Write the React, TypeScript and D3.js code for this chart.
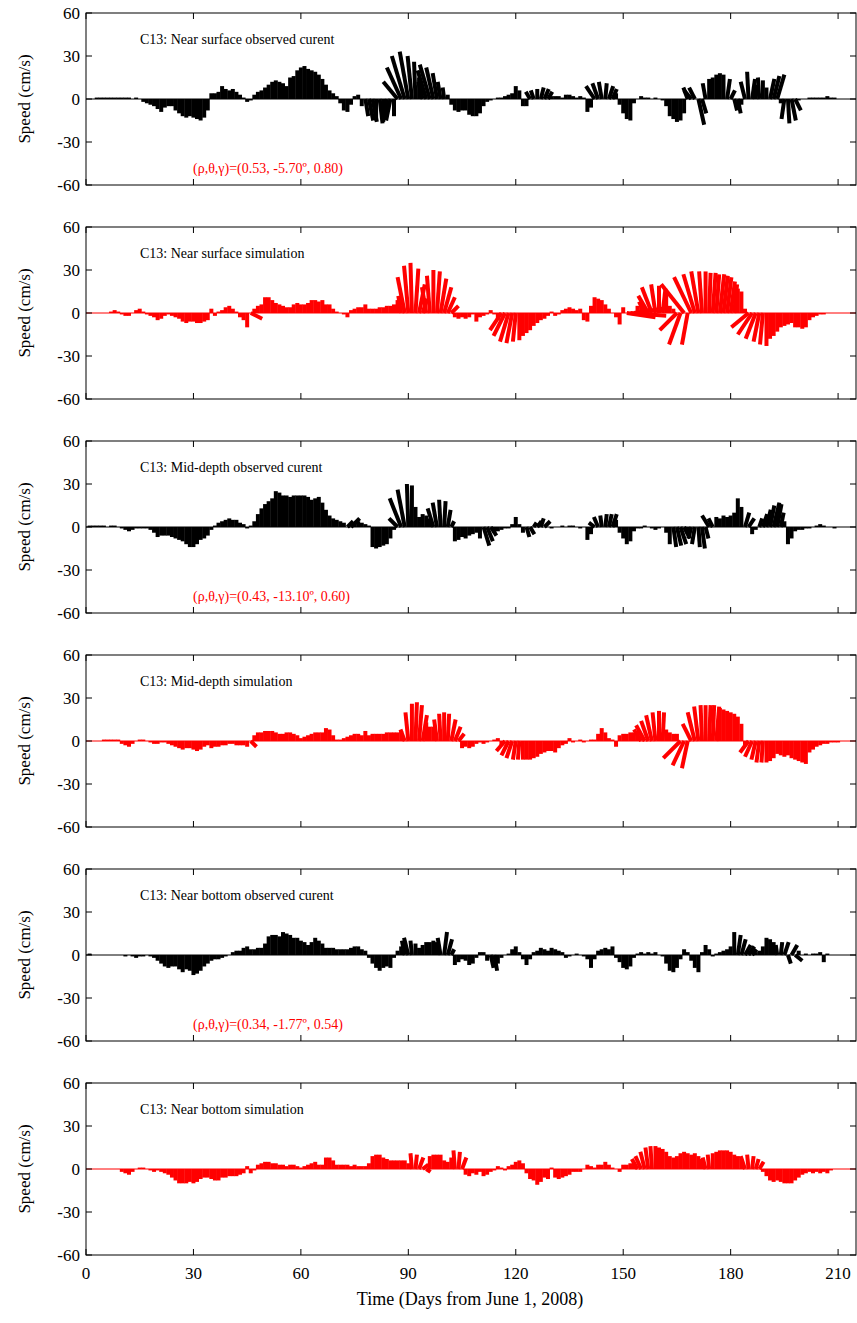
import * as d3 from "d3";

// daily north (v) components, cm/s, day 0..214
const obsSurfV = [
  0, 0, 0, 1, 1, 1, 1, 1, 1, 1, 1, 1, 1, 0, 1, 0, -2, -3, -4, -5,
  -7, -9, -6, -5, -5, -8, -10, -12, -13, -12, -13, -14, -15, -13, -8, 4, 4, 5, 9, 7,
  6, 7, 5, 3, 1, -2, -1, 3, 5, 6, 8, 10, 12, 13, 12, 11, 9, 15, 16, 20,
  22, 23, 21, 20, 19, 17, 14, 10, 6, 4, 2, -3, -8, -9, -4, 2, 3, -5, -12, -15,
  -16, -15, -17, -16, -14, -15, -12, 12, 22, 30, 33, 30, 26, 15, 12, 20, 24, 22, 18, 12,
  8, 3, -4, -8, -9, -8, -8, -11, -12, -12, -10, -5, -2, -1, 0, 1, 1, 2, 3, 4,
  9, 6, -5, -5, 5, 6, 7, 8, 7, 5, 2, 2, 2, 1, 3, 3, 2, 1, 2, 1,
  -9, -6, 9, 11, 12, 11, 9, 7, 4, -4, -10, -14, -15, -3, 0, 2, 1, 1, 0, 1,
  0, -1, -5, -12, -14, -16, -15, -10, 8, 6, 8, -18, -10, 11, 14, 15, 17, 18, 17, 14,
  6, -8, -10, -4, 12, 19, 14, 10, 15, 13, 8, 14, 16, 17, -3, -14, -17, -15, -8, -1,
  0, 0, 1, 1, 1, 1, 1, 2, 1, 1, 0, 0, 0, 0, 0,
];
// [day, east component] where the stick leans
const obsSurfU = [
  [78, 2], [79, 3], [80, 3], [82, 2], [84, -2], [85, -3],
  [87, -10], [88, -10], [89, -9], [90, -6], [91, -3], [92, -1], [94, -3], [95, -6], [96, -7], [97, -5], [98, -3], [99, -2], [100, -1],
  [124, -3], [125, -2], [127, 2], [128, 3], [129, 3],
  [142, -6], [143, -4], [144, -2], [145, 1], [146, 3], [147, 3],
  [168, -3], [169, -5], [170, -4], [171, 4], [172, 3], [173, -2], [179, 2], [180, 3], [181, 2], [182, 2],
  [184, -3], [185, -1], [186, 2], [188, -1], [191, 3], [192, 4], [193, 5], [195, -2], [196, 1], [197, 3], [198, 4],
];

const simSurfV = [
  0, 0, 0, 0, 0, 0, 0, 1, 2, 1, -1, -2, -2, 0, 2, 3, 1, -1, -2, -3,
  -5, -4, -2, -1, -2, -3, -4, -6, -7, -6, -6, -7, -7, -6, -5, 3, -2, 1, 2, 4,
  5, 3, 1, -3, -5, -10, -4, 3, 5, 6, 11, 11, 9, 7, 6, 5, 4, 4, 6, 7,
  6, 6, 7, 9, 9, 8, 9, 6, 6, 3, 1, 0, -1, -3, 2, 3, 4, 4, 6, 3,
  3, 3, 4, 4, 5, 5, 6, 9, 12, 25, 33, 35, 31, 20, 10, 18, 26, 30, 29, 24,
  18, 11, 5, -3, -4, -3, -4, -3, -1, -6, -3, -2, -1, 2, -1, -5, -12, -16, -20, -21,
  -20, -19, -16, -14, -12, -9, -7, -5, -4, -2, 1, -2, -1, 2, 3, 4, 3, 2, 3, -5,
  -6, 5, 11, 10, 9, 6, 3, 0, -3, -8, 4, -3, -2, 3, 5, 6, 8, 12, 18, 20,
  19, 17, 14, 5, 3, -12, -22, 20, -22, 25, 27, 29, 29, 29, 28, 28, 27, 27, 26, 25,
  22, 20, 17, 15, 3, -10, -15, -18, -20, -22, -23, -18, -16, -13, -10, -9, -8, -7, -10, -10,
  -11, -10, -5, -3, -2, -1, -1, 0, 0, 0, 0, 0, 0, 0, 0,
];
const simSurfU = [
  [46, 8], [88, -2], [89, -5], [90, -3], [91, -1], [92, 2], [93, 4], [94, 3], [95, -3], [96, -2], [98, 2], [99, 4], [100, 5], [101, 5], [102, 5],
  [116, -8], [117, -8], [118, -6], [119, -4], [120, -2],
  [151, 20], [152, 25], [153, 20], [156, -4], [157, -7], [158, -7], [159, -3], [161, 2],
  [165, -12], [166, -8], [167, -16], [168, -4], [169, -12], [170, -8], [171, -5], [172, -2], [174, 1], [175, 2], [176, 2], [177, 3], [178, 3], [179, 3], [180, 3], [181, 2],
  [185, -12], [186, -10], [187, -7], [188, -4], [189, -2],
];

const obsMidV = [
  0, 1, 1, 1, 1, 1, 0, 1, 1, 0, -1, -2, -3, -2, -1, -1, -1, -1, -2, -4,
  -7, -6, -6, -6, -7, -8, -9, -10, -12, -14, -14, -12, -9, -8, -6, -2, 1, 3, 4, 5,
  6, 5, 5, 3, 2, -1, 1, 4, 9, 13, 16, 18, 20, 25, 24, 22, 22, 21, 22, 22,
  22, 22, 21, 19, 20, 21, 17, 12, 8, 6, 5, 4, 3, 4, 6, 3, 4, 3, 2, 1,
  -14, -15, -14, -13, -12, -8, -2, 6, 20, 26, 30, 29, 14, 7, 9, 8, 6, 13, 17, 19,
  18, 12, 4, -10, -9, -7, -8, -6, -5, -4, -8, -13, -10, -6, -4, -3, -2, -1, -1, 2,
  7, 2, -4, -7, -5, 3, 4, 6, 4, 0, -1, 0, 0, 1, 0, 1, 1, 0, -1, 0,
  -9, -5, 3, 7, 8, 9, 9, 9, 5, -4, -8, -12, -10, -3, -1, -1, 1, 0, -1, -2,
  -1, 0, -4, -12, -14, -13, -12, -8, -5, -8, -12, -14, -15, -8, 8, 6, 7, 6, 8, 7,
  8, 10, 20, 14, 10, 6, -5, -2, 6, 9, 12, 15, 17, 16, 10, 4, -12, -8, -3, -2,
  -2, -1, -1, 0, 1, 2, 1, 0, 0, -1, 0, 0, 0, 0, 0,
];
const obsMidU = [
  [73, 4], [74, 6], [87, -6], [88, -8], [89, -5], [90, -1], [97, -4], [98, -3], [99, -1], [100, 1], [101, 2], [102, 2],
  [111, 4], [112, 4], [113, 4], [123, 2], [124, 3], [125, 2], [126, 3], [127, 2], [128, 4],
  [142, -4], [143, -3], [144, -1], [145, 1], [146, 2], [147, 3],
  [164, 2], [165, 3], [166, 4], [167, 4], [169, -2], [170, -2], [171, 1], [172, 2], [173, 2], [174, -5], [175, -3],
  [184, 3], [185, 4], [188, 2], [189, 3], [190, 3], [191, 3], [192, 4], [193, 3], [194, 2],
];

const simMidV = [
  0, 0, 0, 0, 0, 1, 1, 1, 1, 1, -2, -3, -4, -2, 0, 1, 1, 0, -1, -2,
  -2, -1, -1, -2, -3, -4, -5, -6, -5, -5, -6, -7, -6, -4, -3, -5, -4, -4, -3, -3,
  -2, -2, -3, -3, -3, -4, -4, 4, 6, 6, 7, 7, 7, 6, 5, 5, 6, 6, 5, 4,
  2, 3, 4, 5, 6, 6, 6, 9, 8, 4, 1, 1, 2, 3, 4, 5, 5, 4, 7, 4,
  5, 5, 5, 5, 6, 6, 6, 6, 7, 8, 20, 26, 27, 25, 18, 13, 10, 10, 15, 19,
  20, 19, 15, 10, 5, -5, -4, -5, -4, -2, -1, -2, -1, 0, 1, 2, -3, -7, -10, -12,
  -13, -13, -13, -13, -13, -12, -11, -9, -8, -7, -7, -8, -5, -3, -2, 2, -1, 0, 1, -1,
  0, 1, 1, 5, 9, 6, 2, 1, -4, 4, 5, 5, 6, 6, 7, 8, 11, 14, 18, 20,
  21, 20, 8, 6, 5, 5, -12, -17, -19, 12, 20, 24, 25, 25, 25, 25, 24, 23, 22, 21,
  20, 19, 17, 12, -3, -8, -11, -13, -15, -15, -15, -14, -12, -9, -10, -11, -10, -12, -13, -14,
  -15, -16, -8, -6, -4, -3, -2, -2, -1, -1, -1, 0, 0, 0, 0,
];
const simMidU = [
  [46, 4], [89, -3], [90, -2], [92, 1], [93, 2], [94, 3], [98, -2], [99, -1], [101, 1], [102, 3], [103, 4], [104, 4],
  [117, -6], [118, -5], [119, -4], [120, -2], [121, -1],
  [155, -5], [156, -6], [157, -5], [158, -4], [159, -2], [161, 1],
  [166, -12], [167, -8], [168, -4], [169, -6], [170, -5], [171, -3], [172, -1], [174, 1], [175, 1], [176, 2],
  [185, -6], [186, -5], [187, -3], [188, -2], [189, -1],
];

const obsBotV = [
  0, 1, 0, 0, 0, 0, 0, 0, 0, 0, 0, -1, 0, -1, -2, -1, -1, 0, -1, -2,
  -4, -6, -8, -9, -8, -8, -10, -12, -10, -11, -14, -13, -11, -8, -6, -4, -3, -3, -2, -1,
  0, 2, 3, 3, 5, 6, 4, 4, 5, 5, 8, 13, 14, 14, 13, 16, 15, 14, 12, 12,
  10, 9, 7, 9, 12, 10, 8, 5, 5, 5, 4, 4, 4, 4, 5, 6, 6, 4, 3, -2,
  -6, -9, -11, -9, -8, -9, -2, 3, 6, 10, 12, 10, 8, 5, 7, 9, 9, 10, 9, 12,
  16, 11, 4, -7, -5, -3, -4, -7, -6, -2, 2, 2, -4, -9, -11, -6, -2, 0, 1, 4,
  6, 2, -3, -7, -3, 2, 3, 5, 4, 3, 5, 4, 3, 2, -2, -1, 0, 1, 0, -1,
  -3, -9, -3, 3, 4, 5, 4, 6, -2, -5, -9, -10, -8, -2, 1, 2, 1, 2, 1, 2,
  0, -1, -6, -11, -12, -9, -3, 4, 2, -4, -9, -12, 2, 7, 4, -1, 1, 2, 3, 4,
  6, 16, 14, 11, 7, 6, 4, 2, 3, 6, 12, 11, 9, 7, 9, 9, -6, 7, -4, 3,
  0, 1, 0, 1, 1, 2, -5, 1, 0, 0, 0, 0, 0, 0, 0,
];
const obsBotU = [
  [89, -2], [90, -3], [91, -1], [99, -2], [100, 2], [101, 3], [102, 2], [113, 2], [114, 2],
  [182, 2], [183, 3], [184, 4], [185, 4], [186, 3], [193, -1], [194, 1], [195, 3], [196, 2], [197, 4], [198, 5],
];

const simBotV = [
  0, 0, 0, 0, 0, 0, 0, 0, 0, 0, -2, -3, -4, -2, 0, 1, 1, 0, -1, -2,
  -1, -2, -3, -4, -6, -8, -10, -10, -10, -9, -10, -9, -7, -6, -6, -7, -8, -8, -6, -6,
  -5, -5, -5, -4, -3, 2, -3, -1, 3, 4, 5, 5, 4, 4, 3, 3, 2, 3, 3, 2,
  1, 2, 3, 4, 5, 3, 3, 8, 8, 6, 3, 3, 3, 3, 2, 3, 2, 2, 2, 4,
  9, 10, 10, 8, 7, 6, 6, 6, 6, 6, 4, 11, 10, 8, 3, -2, 9, 10, 10, 10,
  6, 5, 8, 13, 12, 8, -4, -5, -3, -4, -2, -5, -4, -2, -1, 2, 1, -1, 2, 3,
  5, 6, 4, -3, -7, -8, -11, -9, -6, -7, 1, -6, -7, -6, -5, -4, -2, -2, -2, 0,
  3, 2, 1, 3, 3, 5, 3, 1, 0, -2, 3, 3, 4, 5, 7, 9, 12, 15, 16, 16,
  15, 14, 12, 9, 8, 9, 11, 12, 11, 10, 11, 9, 7, 8, 10, 11, 12, 13, 13, 13,
  12, 10, 9, 7, 9, 10, 9, 7, 5, -2, -5, -8, -9, -8, -9, -10, -10, -10, -8, -6,
  -4, -3, -2, -3, -2, -3, -2, -3, -1, 0, 0, 0, 0, 0, 0,
];
const simBotU = [
  [91, -1], [92, 1], [93, 3], [94, 4], [95, 3], [103, -1], [104, 1], [105, 3],
  [154, -4], [155, -4], [156, -3], [157, -2], [158, -1], [173, -2], [174, -1],
  [184, -3], [185, -1], [186, 1], [187, 2], [188, 3],
];

const titles = [
  "C13: Near surface observed curent",
  "C13: Near surface simulation",
  "C13: Mid-depth observed curent",
  "C13: Mid-depth simulation",
  "C13: Near bottom observed curent",
  "C13: Near bottom simulation",
];
const stats = ["(ρ,θ,γ)=(0.53, -5.70º, 0.80)", "", "(ρ,θ,γ)=(0.43, -13.10º, 0.60)", "", "(ρ,θ,γ)=(0.34, -1.77º, 0.54)", ""];
const yTicks = [-60, -30, 0, 30, 60];
const xTicks = [0, 30, 60, 90, 120, 150, 180, 210];

const series = [
  { v: obsSurfV, u: obsSurfU, color: "#000" },
  { v: simSurfV, u: simSurfU, color: "#ff0000" },
  { v: obsMidV, u: obsMidU, color: "#000" },
  { v: simMidV, u: simMidU, color: "#ff0000" },
  { v: obsBotV, u: obsBotU, color: "#000" },
  { v: simBotV, u: simBotU, color: "#ff0000" },
];

const W = 857;
const H = 1323;
const left = 86;
const right = 856;
const top0 = 13;
const step = 214;
const panelH = 172;
const font = "'Liberation Serif', 'Times New Roman', serif";

const Panel = ({ i }: { i: number }) => {
  const s = series[i];
  const top = top0 + i * step;
  const x = d3.scaleLinear().domain([0, 215]).range([left, right]);
  const y = d3.scaleLinear().domain([-60, 60]).range([top + panelH, top]);
  const k = y(0) - y(1); // px per cm/s, same on both axes
  const uMap = new Map(s.u.map(([d, u]) => [d, u]));
  return (
    <g>
      <line x1={x(0)} x2={x(215)} y1={y(0)} y2={y(0)} stroke={s.color} strokeWidth={1} />
      <g stroke={s.color} strokeWidth={4}>
        {s.v.map((v, d) => {
          const u = uMap.get(d) ?? 0;
          if (v === 0 && u === 0) return null;
          return <line key={d} x1={x(d)} y1={y(0)} x2={x(d) + u * k} y2={y(v)} />;
        })}
      </g>
      <rect x={left} y={top} width={right - left} height={panelH} fill="none" stroke="#000" strokeWidth={1} />
      <g stroke="#000" strokeWidth={1}>
        {yTicks.map((t) => (
          <g key={t}>
            <line x1={left} x2={left + 6} y1={y(t)} y2={y(t)} />
            <line x1={right - 6} x2={right} y1={y(t)} y2={y(t)} />
          </g>
        ))}
        {xTicks.map((t) => (
          <g key={t}>
            <line x1={x(t)} x2={x(t)} y1={top} y2={top + 6} />
            <line x1={x(t)} x2={x(t)} y1={top + panelH} y2={top + panelH - 6} />
          </g>
        ))}
      </g>
      <g fontFamily={font} fontSize={17} textAnchor="end">
        {yTicks.map((t) => (
          <text key={t} x={left - 6} y={y(t) + 6}>{t}</text>
        ))}
      </g>
      <text
        transform={`translate(30,${y(0)}) rotate(-90)`}
        textAnchor="middle"
        fontFamily={font}
        fontSize={17}
      >
        Speed (cm/s)
      </text>
      <text x={140} y={top + 31} fontFamily={font} fontSize={14}>{titles[i]}</text>
      {stats[i] && (
        <text x={193} y={top + 160} fontFamily={font} fontSize={14} fill="#ff0000">{stats[i]}</text>
      )}
    </g>
  );
};

export default function App() {
  const x = d3.scaleLinear().domain([0, 215]).range([left, right]);
  const bottom = top0 + 5 * step + panelH;
  return (
    <svg width={W} height={H} style={{ display: "block", position: "absolute", left: 0, top: 0, background: "#fff" }}>
      {series.map((_, i) => (
        <Panel key={i} i={i} />
      ))}
      <g fontFamily={font} fontSize={17} textAnchor="middle">
        {xTicks.map((t) => (
          <text key={t} x={x(t)} y={bottom + 24}>{t}</text>
        ))}
      </g>
      <text x={470} y={bottom + 50} textAnchor="middle" fontFamily={font} fontSize={18}>
        Time (Days from June 1, 2008)
      </text>
    </svg>
  );
}
